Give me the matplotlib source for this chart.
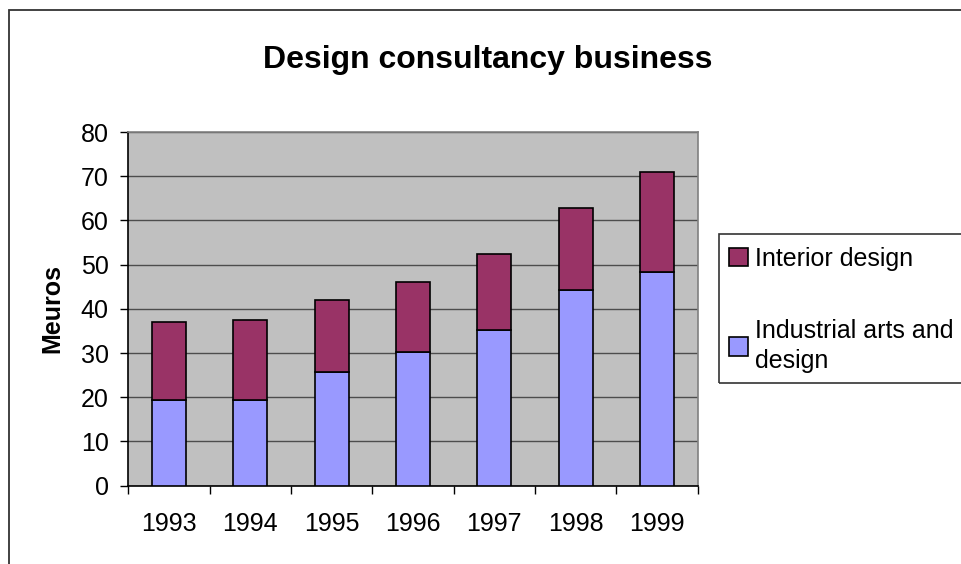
import numpy as np
import matplotlib
matplotlib.use("Agg")
import matplotlib.pyplot as plt
from matplotlib.patches import Rectangle

plt.rcParams["font.family"] = ["Liberation Sans", "DejaVu Sans"]

YEARS = ["1993", "1994", "1995", "1996", "1997", "1998", "1999"]
INDUSTRIAL = [19.4, 19.4, 25.7, 30.2, 35.2, 44.3, 48.3]
INTERIOR_TOP = [37.0, 37.5, 41.9, 46.1, 52.4, 62.8, 71.0]
INTERIOR = [round(t - b, 1) for t, b in zip(INTERIOR_TOP, INDUSTRIAL)]
LABELS = ["Interior design", "Industrial arts and\ndesign"]
C_IND = "#9999FF"
C_INT = "#993366"

W, H = 962, 564
fig = plt.figure(figsize=(W / 100, H / 100), dpi=100)
ax = fig.add_axes([128.3 / W, 1 - 485.7 / H, (697.7 - 128.3) / W, (485.7 - 132) / H])

# outer chart border (runs off the right and bottom edges)
fig.patches.append(Rectangle((9 / W, -0.1), 2.0, 1.1 - 10 / H, transform=fig.transFigure,
                             fill=False, edgecolor="#333333", lw=1.3))

x = np.arange(len(YEARS))
ax.set_facecolor("#C0C0C0")
b1 = ax.bar(x, INDUSTRIAL, width=0.42, color=C_IND, edgecolor="black", lw=1.2, zorder=3)
b2 = ax.bar(x, INTERIOR, bottom=INDUSTRIAL, width=0.42, color=C_INT, edgecolor="black", lw=1.2, zorder=3)

ax.set_xlim(-0.5, len(YEARS) - 0.5)
ax.set_ylim(0, 80)
ax.set_yticks(np.arange(0, 81, 10))
ax.yaxis.grid(True, color="#4d4d4d", lw=1.0, zorder=1)
ax.set_axisbelow(True)

ax.set_xticks(np.arange(-0.5, len(YEARS)), labels=[""] * (len(YEARS) + 1))
ax.set_xticks(x, labels=YEARS, minor=True)
ax.tick_params(axis="x", which="major", length=6, width=1, direction="out", color="black")
ax.tick_params(axis="x", which="minor", length=0, pad=19, labelsize=18)
ax.tick_params(axis="y", length=6, width=1, direction="out", pad=8, labelsize=18)

for side in ("top", "right"):
    ax.spines[side].set_color("#808080")
    ax.spines[side].set_linewidth(1.2)
for side in ("left", "bottom"):
    ax.spines[side].set_color("black")
    ax.spines[side].set_linewidth(1.2)

ax.set_ylabel("Meuros", fontsize=18, fontweight="bold", labelpad=12)
fig.text(488 / W, 1 - 60 / H, "Design consultancy business", ha="center", va="center",
         fontsize=23, fontweight="bold")

# legend box
fig.patches.append(Rectangle((719 / W, 1 - 383 / H), 0.5, (383 - 234) / H, transform=fig.transFigure,
                             fill=False, edgecolor="#333333", lw=1.2))
leg = fig.legend([b2, b1], LABELS, loc="upper left", bbox_to_anchor=(719 / W, 1 - 237 / H),
                 frameon=False, fontsize=18, handlelength=0.75, handleheight=0.75,
                 handletextpad=0.3, labelspacing=1.9, borderaxespad=0)
for t in leg.get_texts():
    t.set_linespacing(1.35)

fig.savefig("out.png", dpi=100, facecolor="white")
